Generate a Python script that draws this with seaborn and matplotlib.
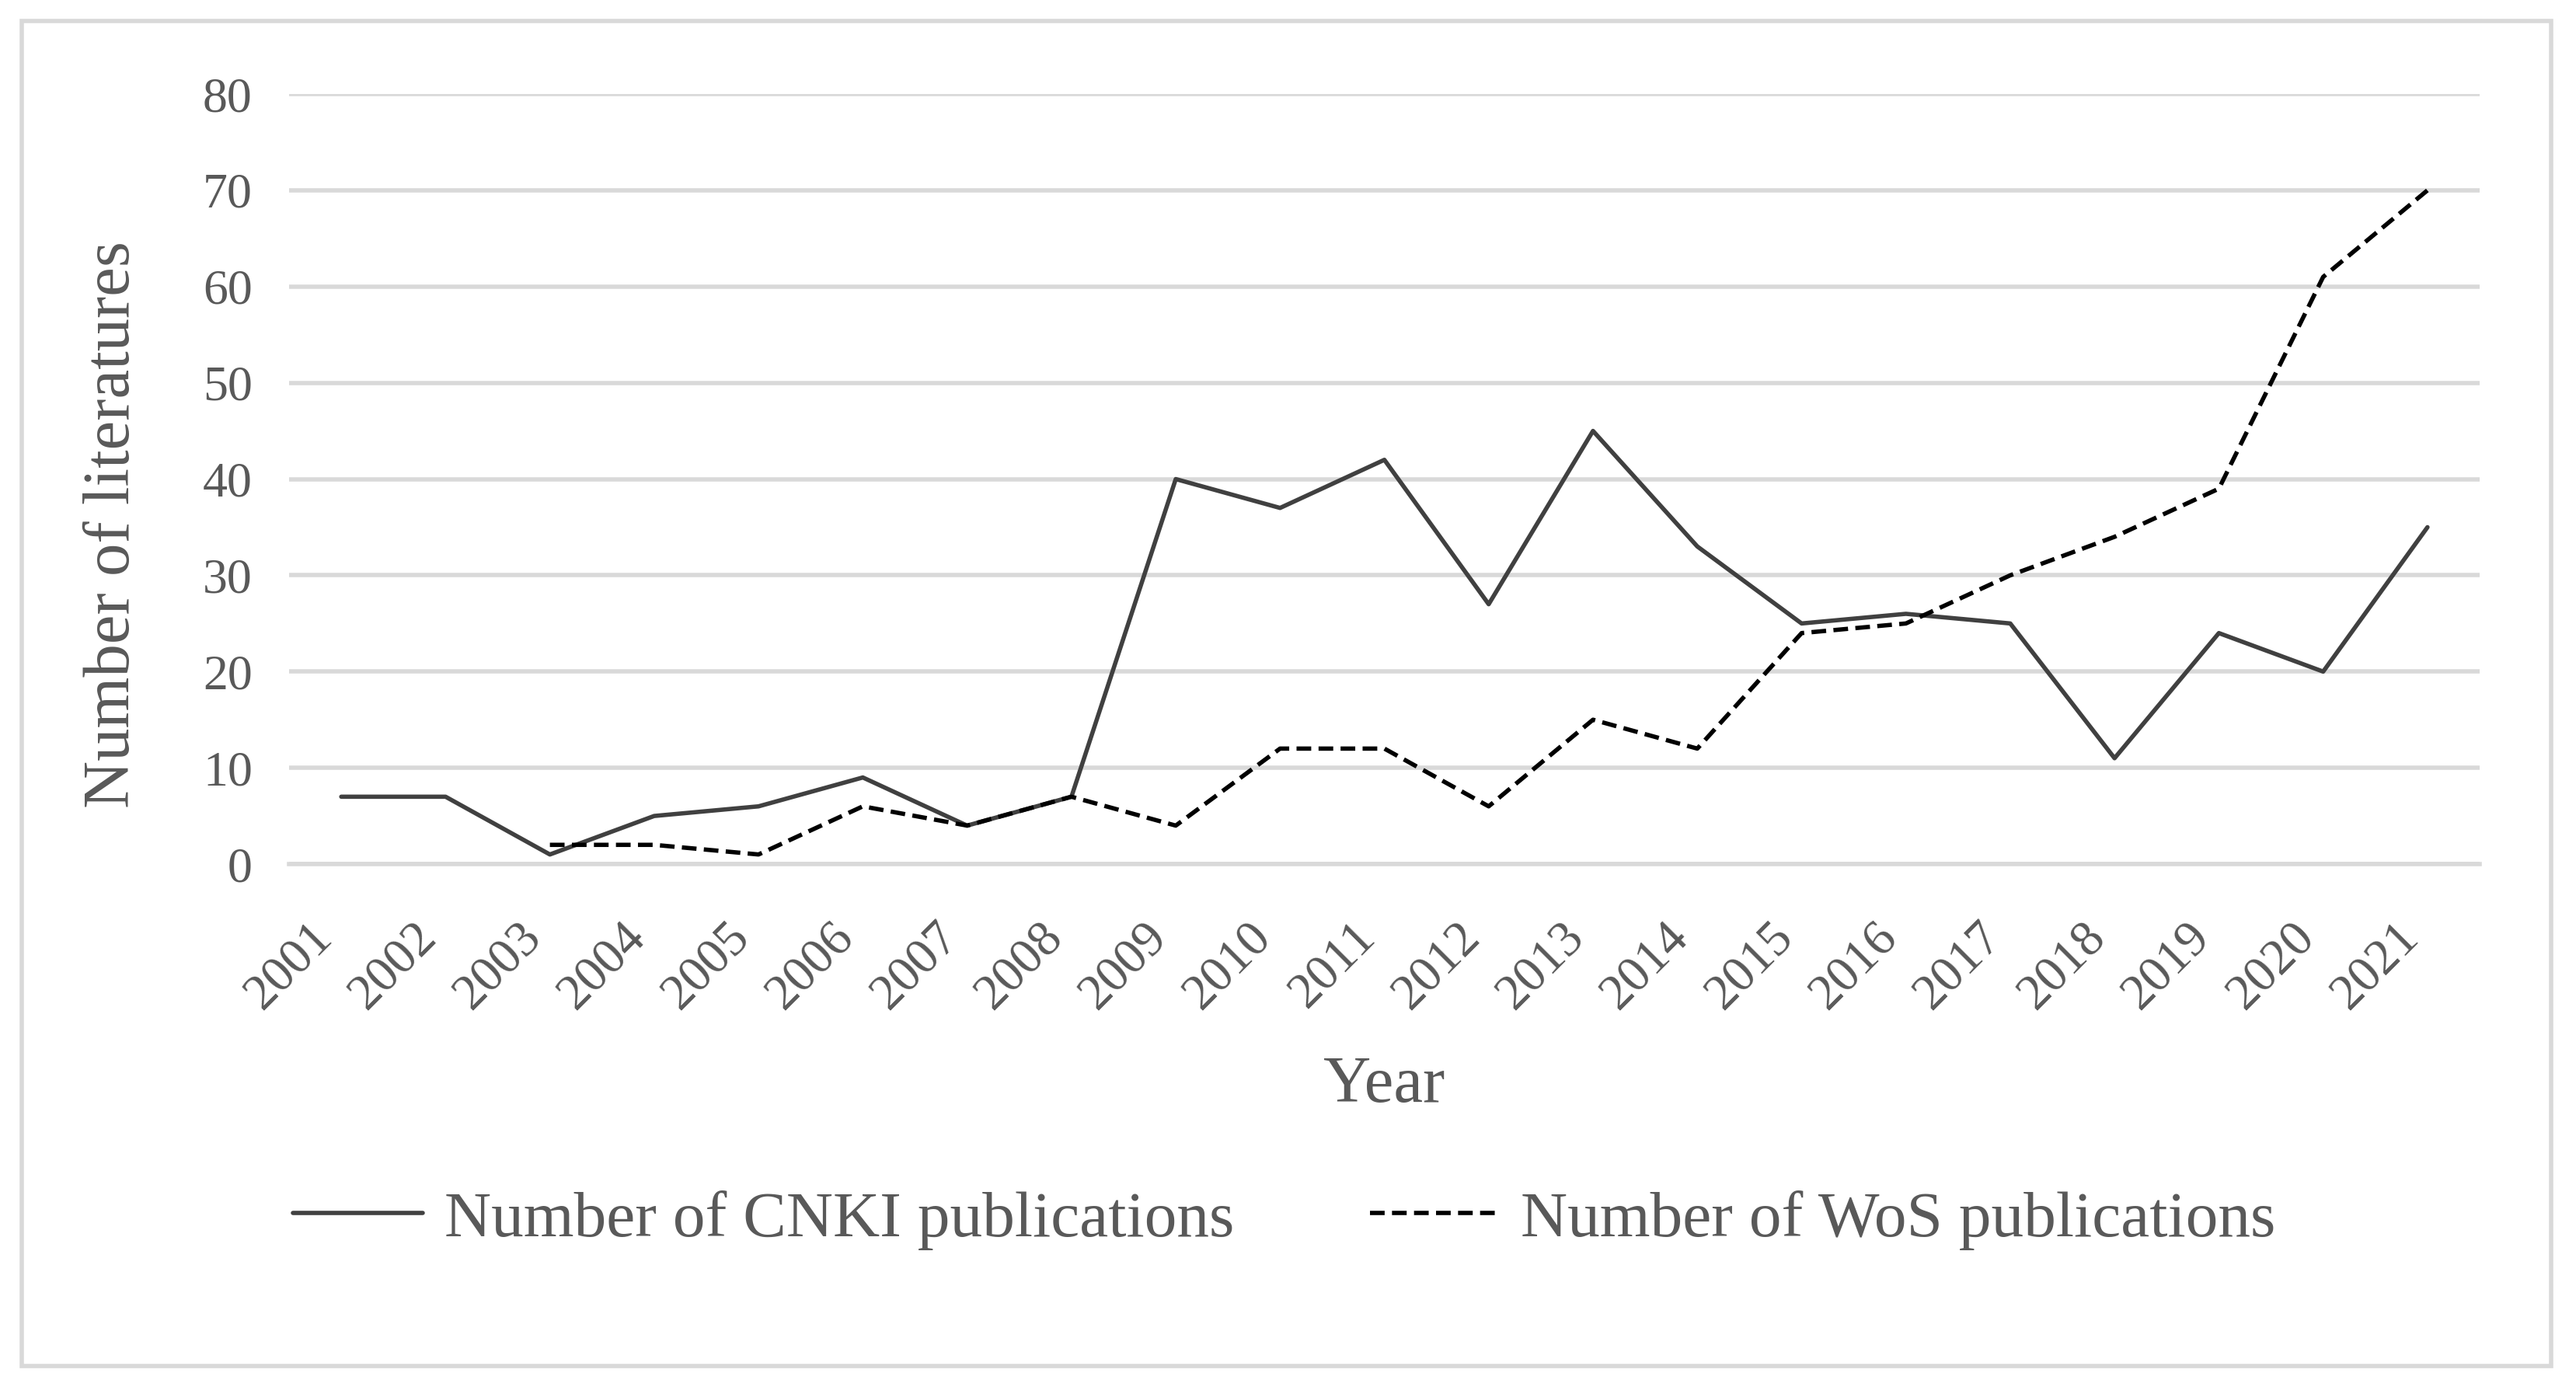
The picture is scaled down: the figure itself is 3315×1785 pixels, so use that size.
import numpy as np
import pandas as pd
import matplotlib
matplotlib.use("Agg")
import matplotlib.pyplot as plt
from matplotlib.patches import Rectangle
from matplotlib.ticker import FixedLocator
import seaborn as sns

years = list(range(2001, 2022))
cnki = [7, 7, 1, 5, 6, 9, 4, 7, 40, 37, 42, 27, 45, 33, 25, 26, 25, 11, 24, 20, 35]
wos = [np.nan, np.nan, 2, 2, 1, 6, 4, 7, 4, 12, 12, 6, 15, 12, 24, 25, 30, 34, 39, 61, 70]
y_ticks = [0, 10, 20, 30, 40, 50, 60, 70, 80]
label_cnki = "Number of CNKI publications"
label_wos = "Number of WoS publications"

sns.set_theme(style="white")
plt.rcParams["font.family"] = ["Liberation Serif", "DejaVu Serif"]

TXT = "#595959"
GRID = "#d9d9d9"

df = pd.DataFrame({"Year": years, "CNKI": cnki, "WoS": wos})

fig = plt.figure(figsize=(16.58, 8.925), dpi=200)
ax = fig.add_axes([0.1122, 0.3770, 0.8501, 0.5552])

sns.lineplot(data=df, x="Year", y="CNKI", ax=ax, color="#404040", lw=2.0,
             label=label_cnki, zorder=3)
sns.lineplot(data=df, x="Year", y="WoS", ax=ax, color="black", lw=2.0,
             linestyle=(0, (3.4, 1.7)), label=label_wos, zorder=3)

ax.set_xlim(years[0] - 0.5, years[-1] + 0.5)
ax.set_ylim(0, 80)
ax.set_yticks(y_ticks)
ax.set_yticklabels([str(v) for v in y_ticks])
ax.set_xticks(years)
ax.set_xticklabels([str(y) for y in years], rotation=45, ha="right", va="top")
ax.xaxis.set_minor_locator(FixedLocator([y - 0.5 for y in years] + [years[-1] + 0.5]))

ax.grid(axis="y", color=GRID, lw=2.0, zorder=0)
ax.grid(axis="x", visible=False)
ax.set_axisbelow(True)
for s in ["left", "right", "top"]:
    ax.spines[s].set_visible(False)
ax.spines["bottom"].set_color(GRID)
ax.spines["bottom"].set_linewidth(2.0)

ax.tick_params(axis="x", which="major", length=0, pad=23, labelsize=23.5, labelcolor=TXT)
ax.tick_params(axis="x", which="minor", direction="in", length=7, width=2.0, color=GRID)
ax.tick_params(axis="y", which="major", length=0, pad=17, labelsize=23, labelcolor=TXT)

ax.set_xlabel("Year", fontsize=30.5, color=TXT)
ax.xaxis.label.set_va("center")
ax.xaxis.set_label_coords(0.5, -0.2876)
ax.set_ylabel("Number of literatures", fontsize=30.5, color=TXT)
ax.yaxis.label.set_va("center")
ax.yaxis.set_label_coords(-0.0805, 0.441)

handles, labels = ax.get_legend_handles_labels()
if ax.get_legend() is not None:
    ax.get_legend().remove()
fig.legend(handles, labels, loc="center", ncol=2, frameon=False,
           bbox_to_anchor=(1653 / 3316, 1 - 1570 / 1785),
           fontsize=30, labelcolor=TXT, handlelength=2.0,
           handletextpad=0.33, columnspacing=2.1)

fig.add_artist(Rectangle((28 / 3316, 1 - 1758 / 1785), (3283 - 28) / 3316,
                         (1758 - 27) / 1785, transform=fig.transFigure,
                         fill=False, edgecolor=GRID, lw=2.0))

fig.savefig("out.png", dpi=200, facecolor="white")
